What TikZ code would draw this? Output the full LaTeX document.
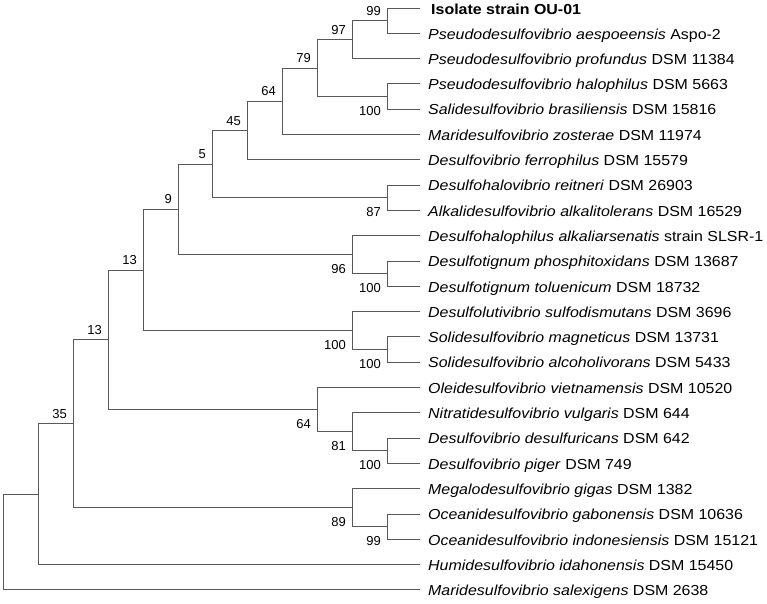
\documentclass[tikz,border=0pt]{standalone}
\usepackage{fontspec}
\setmainfont{Liberation Sans}
\newfontfamily\taxonfont[FakeStretch=1.1]{Liberation Sans}
\usepackage{tikz}

\begin{document}
\begin{tikzpicture}[x=1pt, y=-1pt,
  branch/.style={draw=black!65, line width=1pt},
  taxon/.style={anchor=west, inner sep=0pt, text height=10.4pt, text depth=3pt, font=\taxonfont\fontsize{14.5}{17}\selectfont},
  bsup/.style={anchor=base east, inner sep=0pt, font=\fontsize{13}{15}\selectfont},
  bsdown/.style={anchor=base east, inner sep=0pt, font=\fontsize{13}{15}\selectfont}]

\useasboundingbox (0,0) rectangle (767,603);

% leaf tips
\coordinate (t1) at (420,8.5);
\coordinate (t2) at (420,33.3);
\coordinate (t3) at (420,58.6);
\coordinate (t4) at (420,83.9);
\coordinate (t5) at (420,109.2);
\coordinate (t6) at (420,134.5);
\coordinate (t7) at (420,159.8);
\coordinate (t8) at (420,185.1);
\coordinate (t9) at (420,210.4);
\coordinate (t10) at (420,235.7);
\coordinate (t11) at (420,261);
\coordinate (t12) at (420,286.3);
\coordinate (t13) at (420,311.6);
\coordinate (t14) at (420,336.9);
\coordinate (t15) at (420,362.2);
\coordinate (t16) at (420,387.5);
\coordinate (t17) at (420,412.8);
\coordinate (t18) at (420,438.1);
\coordinate (t19) at (420,463.4);
\coordinate (t20) at (420,488.7);
\coordinate (t21) at (420,514);
\coordinate (t22) at (420,539.3);
\coordinate (t23) at (420,564.6);
\coordinate (t24) at (420,589.9);

% taxa
\node[taxon] (l1) at (431,10.5) {\textbf{Isolate strain OU-01}};
\node[taxon] (l2) at (428,35.3) {\textit{Pseudodesulfovibrio aespoeensis} Aspo-2};
\node[taxon] (l3) at (428,60.6) {\textit{Pseudodesulfovibrio profundus} DSM 11384};
\node[taxon] (l4) at (428,85.9) {\textit{Pseudodesulfovibrio halophilus} DSM 5663};
\node[taxon] (l5) at (428,111.2) {\textit{Salidesulfovibrio brasiliensis} DSM 15816};
\node[taxon] (l6) at (428,136.5) {\textit{Maridesulfovibrio zosterae} DSM 11974};
\node[taxon] (l7) at (428,161.8) {\textit{Desulfovibrio ferrophilus} DSM 15579};
\node[taxon] (l8) at (428,187.1) {\textit{Desulfohalovibrio reitneri} DSM 26903};
\node[taxon] (l9) at (428,212.4) {\textit{Alkalidesulfovibrio alkalitolerans} DSM 16529};
\node[taxon] (l10) at (428,237.7) {\textit{Desulfohalophilus alkaliarsenatis} strain SLSR-1};
\node[taxon] (l11) at (428,263) {\textit{Desulfotignum phosphitoxidans} DSM 13687};
\node[taxon] (l12) at (428,288.3) {\textit{Desulfotignum toluenicum} DSM 18732};
\node[taxon] (l13) at (428,313.6) {\textit{Desulfolutivibrio sulfodismutans} DSM 3696};
\node[taxon] (l14) at (428,338.9) {\textit{Solidesulfovibrio magneticus} DSM 13731};
\node[taxon] (l15) at (428,364.2) {\textit{Solidesulfovibrio alcoholivorans} DSM 5433};
\node[taxon] (l16) at (428,389.5) {\textit{Oleidesulfovibrio vietnamensis} DSM 10520};
\node[taxon] (l17) at (428,414.8) {\textit{Nitratidesulfovibrio vulgaris} DSM 644};
\node[taxon] (l18) at (428,440.1) {\textit{Desulfovibrio desulfuricans} DSM 642};
\node[taxon] (l19) at (428,465.4) {\textit{Desulfovibrio piger} DSM 749};
\node[taxon] (l20) at (428,490.7) {\textit{Megalodesulfovibrio gigas} DSM 1382};
\node[taxon] (l21) at (428,516) {\textit{Oceanidesulfovibrio gabonensis} DSM 10636};
\node[taxon] (l22) at (428,541.3) {\textit{Oceanidesulfovibrio indonesiensis} DSM 15121};
\node[taxon] (l23) at (428,566.6) {\textit{Humidesulfovibrio idahonensis} DSM 15450};
\node[taxon] (l24) at (428,591.9) {\textit{Maridesulfovibrio salexigens} DSM 2638};

% internal nodes
\coordinate (n99a) at (387,20.9);
\coordinate (n97) at (352,39.75);
\coordinate (n100a) at (387,96.55);
\coordinate (n79) at (317,68.15);
\coordinate (n64a) at (282,101.3);
\coordinate (n45) at (247,130.55);
\coordinate (n87) at (387,197.75);
\coordinate (n5) at (212,164.15);
\coordinate (n100b) at (387,273.65);
\coordinate (n96) at (352,254.7);
\coordinate (n9) at (178,209.4);
\coordinate (n100d) at (387,349.55);
\coordinate (n100c) at (352,330.6);
\coordinate (n13a) at (143,270);
\coordinate (n100e) at (387,450.75);
\coordinate (n81) at (352,431.8);
\coordinate (n64b) at (317,409.65);
\coordinate (n13b) at (108,339.8);
\coordinate (n99b) at (387,526.65);
\coordinate (n89) at (352,507.7);
\coordinate (n35) at (73,423.75);
\coordinate (nh) at (38,494.2);
\coordinate (root) at (3,542);

% branches
\draw[branch] (n99a) |- (t1);
\draw[branch] (n99a) |- (t2);
\draw[branch] (n97) |- (n99a);
\draw[branch] (n97) |- (t3);
\draw[branch] (n100a) |- (t4);
\draw[branch] (n100a) |- (t5);
\draw[branch] (n79) |- (n97);
\draw[branch] (n79) |- (n100a);
\draw[branch] (n64a) |- (n79);
\draw[branch] (n64a) |- (t6);
\draw[branch] (n45) |- (n64a);
\draw[branch] (n45) |- (t7);
\draw[branch] (n87) |- (t8);
\draw[branch] (n87) |- (t9);
\draw[branch] (n5) |- (n45);
\draw[branch] (n5) |- (n87);
\draw[branch] (n100b) |- (t11);
\draw[branch] (n100b) |- (t12);
\draw[branch] (n96) |- (t10);
\draw[branch] (n96) |- (n100b);
\draw[branch] (n9) |- (n5);
\draw[branch] (n9) |- (n96);
\draw[branch] (n100d) |- (t14);
\draw[branch] (n100d) |- (t15);
\draw[branch] (n100c) |- (t13);
\draw[branch] (n100c) |- (n100d);
\draw[branch] (n13a) |- (n9);
\draw[branch] (n13a) |- (n100c);
\draw[branch] (n100e) |- (t18);
\draw[branch] (n100e) |- (t19);
\draw[branch] (n81) |- (t17);
\draw[branch] (n81) |- (n100e);
\draw[branch] (n64b) |- (t16);
\draw[branch] (n64b) |- (n81);
\draw[branch] (n13b) |- (n13a);
\draw[branch] (n13b) |- (n64b);
\draw[branch] (n99b) |- (t21);
\draw[branch] (n99b) |- (t22);
\draw[branch] (n89) |- (t20);
\draw[branch] (n89) |- (n99b);
\draw[branch] (n35) |- (n13b);
\draw[branch] (n35) |- (n89);
\draw[branch] (nh) |- (n35);
\draw[branch] (nh) |- (t23);
\draw[branch] (root) |- (nh);
\draw[branch] (root) |- (t24);

% bootstrap values
\node[bsup] (b99a) at (381,15.7) {99};
\node[bsup] (b97) at (346,34.2) {97};
\node[bsup] (b79) at (311,62.6) {79};
\node[bsup] (b64a) at (276,95.8) {64};
\node[bsup] (b45) at (241,125) {45};
\node[bsup] (b5) at (206,158.6) {5};
\node[bsup] (b9) at (172,203.9) {9};
\node[bsup] (b13a) at (137,264.5) {13};
\node[bsup] (b13b) at (102,334.3) {13};
\node[bsup] (b35) at (67,418.2) {35};
\node[bsdown] (b100a) at (381,115.5) {100};
\node[bsdown] (b87) at (381,216.7) {87};
\node[bsdown] (b96) at (346,273.7) {96};
\node[bsdown] (b100b) at (381,292.6) {100};
\node[bsdown] (b100c) at (346,349.6) {100};
\node[bsdown] (b100d) at (381,368.5) {100};
\node[bsdown] (b64b) at (311,428.6) {64};
\node[bsdown] (b81) at (346,450.8) {81};
\node[bsdown] (b100e) at (381,469.7) {100};
\node[bsdown] (b89) at (346,526.7) {89};
\node[bsdown] (b99b) at (381,545.6) {99};
\end{tikzpicture}
\end{document}
